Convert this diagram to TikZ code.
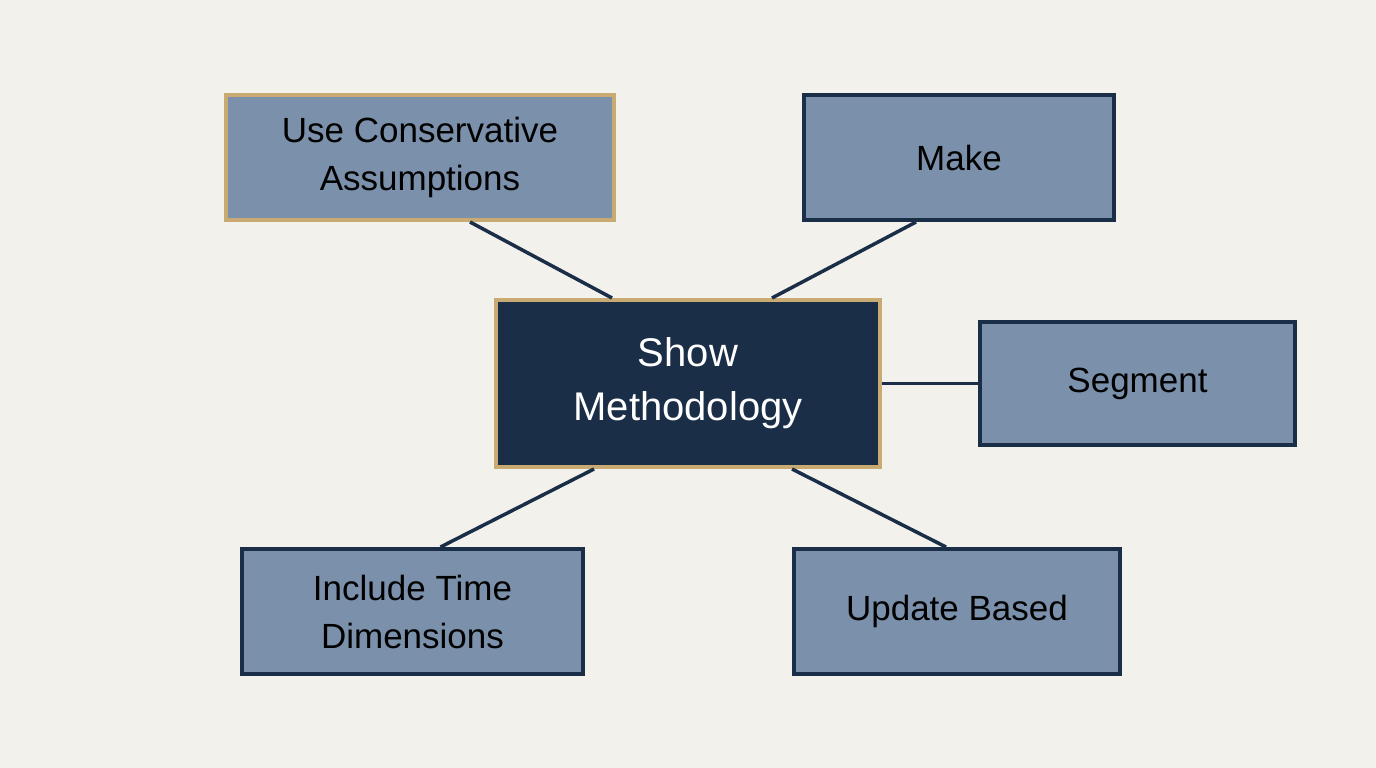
\documentclass[tikz,border=0pt]{standalone}
\usepackage{fontspec}
\setmainfont{Liberation Sans}
\definecolor{bg}{HTML}{F2F1EC}
\definecolor{boxf}{HTML}{7B91AB}
\definecolor{navy}{HTML}{1B2E48}
\definecolor{tan}{HTML}{C9AA72}
\begin{document}
\begin{tikzpicture}[x=1pt,y=-1pt,
 box/.style={draw=navy,fill=boxf,line width=4pt,inner sep=0pt,align=center,font=\fontsize{35}{48}\selectfont,text=black},
 ln/.style={draw=navy,line width=3.5pt}]
\fill[bg] (0,0) rectangle (1376,768);
\useasboundingbox (0,0) rectangle (1376,768);
\node[box,draw=tan,minimum width=388pt,minimum height=125pt] (u) at (420,157.5) {Use Conservative\\Assumptions};
\node[box,minimum width=310pt,minimum height=125pt] (m) at (959,157.5) {Make};
\node[box,draw=tan,fill=navy,text=white,minimum width=384pt,minimum height=167pt,font=\fontsize{40}{54}\selectfont] (c) at (688,383.5) {Show\\Methodology};
\node[box,minimum width=315pt,minimum height=123pt] (s) at (1137.5,383.5) {Segment};
\node[box,minimum width=341pt,minimum height=125pt] (i) at (412.5,611.5) {Include Time\\Dimensions};
\node[box,minimum width=326pt,minimum height=125pt] (b) at (957,611.5) {Update Based};
\draw[ln] ([xshift=50pt]u.south) -- ([xshift=-76pt]c.north);
\draw[ln] ([xshift=-43pt]m.south) -- ([xshift=84pt]c.north);
\draw[ln] (c.east) -- (s.west);
\draw[ln] ([xshift=-94pt]c.south) -- ([xshift=28pt]i.north);
\draw[ln] ([xshift=104pt]c.south) -- ([xshift=-11pt]b.north);
\end{tikzpicture}
\end{document}
